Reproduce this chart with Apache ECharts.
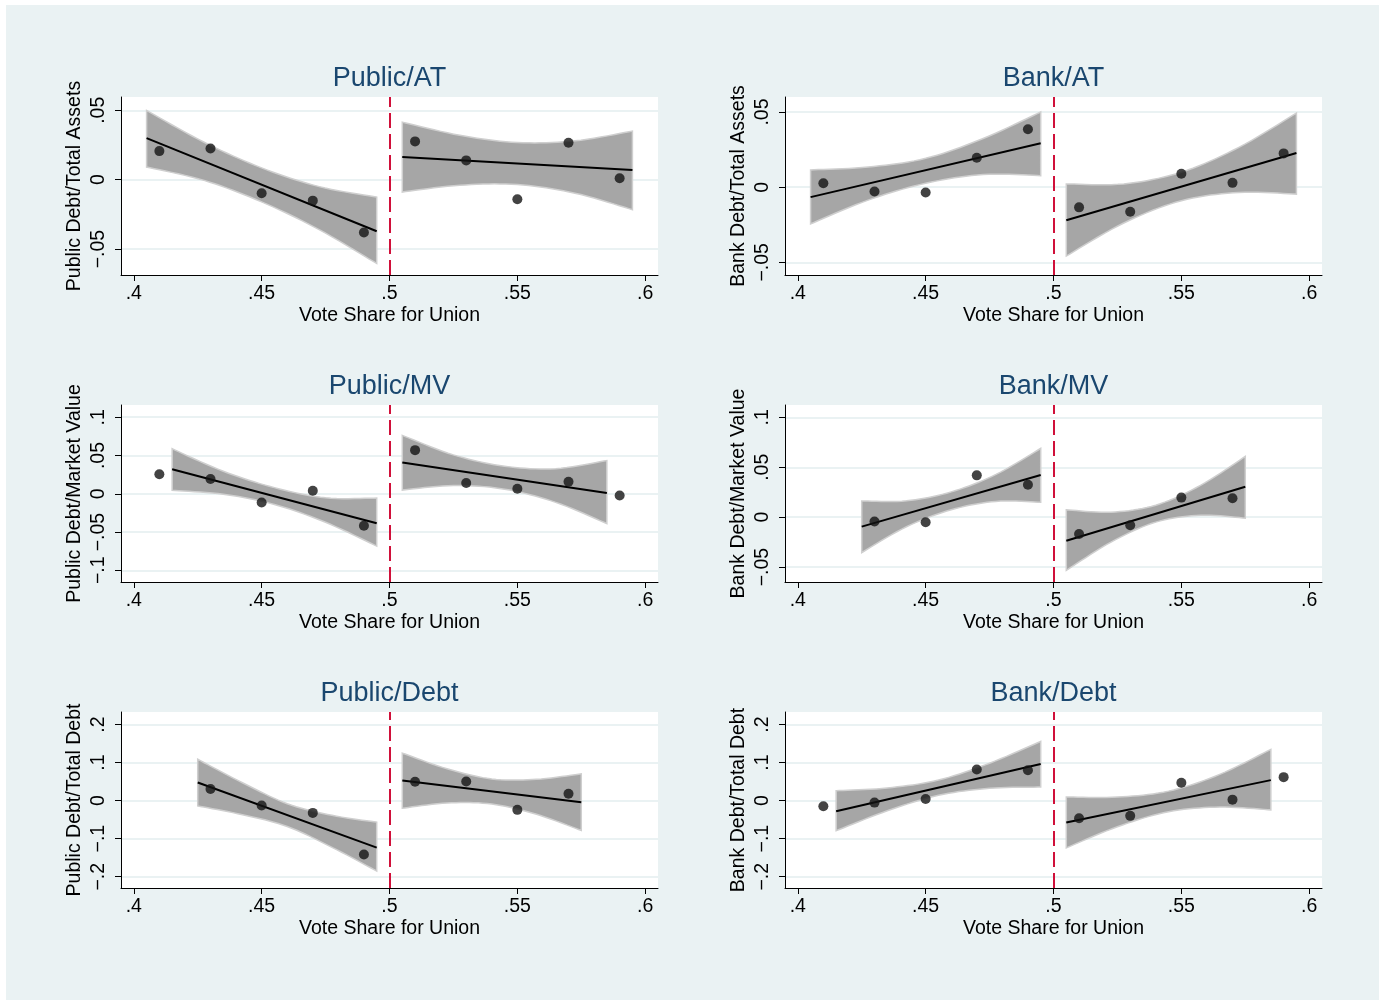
<!DOCTYPE html>
<html>
<head>
<meta charset="utf-8">
<script src="https://cdn.jsdelivr.net/npm/echarts@6/dist/echarts.min.js"></script>
<style>
  html, body { margin: 0; padding: 0; background: #fff; }
  #bg { position: absolute; left: 6px; top: 5px; width: 1373px; height: 995px; background: #eaf2f3; }
  #chart { position: absolute; left: 0; top: 0; width: 1389px; height: 1000px; }
</style>
</head>
<body>
<div id="bg"></div>
<div id="chart"></div>
<script>
// binned vote shares (x of every dot)
const xPts = [0.41, 0.43, 0.45, 0.47, 0.49, 0.51, 0.53, 0.55, 0.57, 0.59];
const xTicks = [0.4, 0.45, 0.5, 0.55, 0.6];

const titles = ['Public/AT', 'Bank/AT', 'Public/MV', 'Bank/MV', 'Public/Debt', 'Bank/Debt'];
const yNames = ['Public Debt/Total Assets', 'Bank Debt/Total Assets', 'Public Debt/Market Value',
  'Bank Debt/Market Value', 'Public Debt/Total Debt', 'Bank Debt/Total Debt'];
const yTicks = [
  [-0.05, 0, 0.05], [-0.05, 0, 0.05],
  [-0.1, -0.05, 0, 0.05, 0.1], [-0.05, 0, 0.05, 0.1],
  [-0.2, -0.1, 0, 0.1, 0.2], [-0.2, -0.1, 0, 0.1, 0.2]
];
const yMin = [-0.0687, -0.0584, -0.1153, -0.065, -0.2297, -0.2297];
const yMax = [0.0596, 0.060, 0.116, 0.1124, 0.233, 0.233];

// dot values, one per xPts entry (null = no dot)
const pubAT = [0.0206, 0.0225, -0.0098, -0.0151, -0.0381, 0.0276, 0.0139, -0.0141, 0.0266, 0.001];
const bankAT = [0.0026, -0.0029, -0.0035, 0.0196, 0.0385, -0.0134, -0.0163, 0.009, 0.0029, 0.0225];
const pubMV = [0.0254, 0.0193, -0.0114, 0.0039, -0.0417, 0.057, 0.014, 0.0066, 0.0158, -0.0022];
const bankMV = [null, -0.0044, -0.0051, 0.0419, 0.0324, -0.0169, -0.0081, 0.0196, 0.0189, null];
const pubDebt = [null, 0.0304, -0.013, -0.0322, -0.1417, 0.0496, 0.0504, -0.0243, 0.0183, null];
const bankDebt = [-0.0148, -0.0052, 0.0043, 0.0817, 0.08, -0.0461, -0.04, 0.047, 0.0026, 0.0617];

// fitted lines: [x0, y0, x1, y1] left and right of the cutoff
const fitPubAT = [[0.405, 0.030, 0.495, -0.0372], [0.505, 0.0163, 0.595, 0.007]];
const fitBankAT = [[0.405, -0.0066, 0.495, 0.0293], [0.505, -0.022, 0.595, 0.0227]];
const fitPubMV = [[0.415, 0.032, 0.495, -0.0386], [0.505, 0.0408, 0.585, 0.0009]];
const fitBankMV = [[0.425, -0.0095, 0.495, 0.0422], [0.505, -0.0236, 0.575, 0.0304]];
const fitPubDebt = [[0.425, 0.0478, 0.495, -0.1235], [0.505, 0.053, 0.575, -0.0043]];
const fitBankDebt = [[0.415, -0.0278, 0.495, 0.0965], [0.505, -0.0574, 0.585, 0.0539]];

// confidence bands: [x, lower, upper]
const bandPubAT_L = [[0.405, 0.0091, 0.0499], [0.4275, -0.0005, 0.027], [0.45, -0.016, 0.0085], [0.4725, -0.036, -0.005], [0.495, -0.0604, -0.0125]];
const bandPubAT_R = [[0.505, -0.0089, 0.0415], [0.5275, -0.004, 0.032], [0.55, -0.0035, 0.0268], [0.5725, -0.0097, 0.028], [0.595, -0.0216, 0.035]];
const bandBankAT_L = [[0.405, -0.0244, 0.0115], [0.4275, -0.0086, 0.0134], [0.45, 0.0026, 0.0192], [0.4725, 0.0084, 0.0324], [0.495, 0.0077, 0.05]];
const bandBankAT_R = [[0.505, -0.0458, 0.0022], [0.5275, -0.0238, 0.0022], [0.55, -0.009, 0.01], [0.5725, -0.0035, 0.0265], [0.595, -0.0046, 0.0493]];
const bandPubMV_L = [[0.415, 0.0044, 0.0588], [0.435, -0.0006, 0.0294], [0.455, -0.014, 0.008], [0.475, -0.0373, -0.0053], [0.495, -0.0684, -0.0057]];
const bandPubMV_R = [[0.505, 0.0048, 0.0763], [0.525, 0.0108, 0.0508], [0.545, 0.006, 0.036], [0.565, -0.0112, 0.0328], [0.585, -0.039, 0.0434]];
const bandBankMV_L = [[0.425, -0.0355, 0.0162], [0.4425, -0.0096, 0.0164], [0.46, 0.0074, 0.0253], [0.4775, 0.0158, 0.0428], [0.495, 0.0149, 0.0689]];
const bandBankMV_R = [[0.505, -0.0534, 0.0074], [0.5225, -0.025, 0.005], [0.54, -0.005, 0.012], [0.5575, 0.0019, 0.0319], [0.575, -0.001, 0.0608]];
const bandPubDebt_L = [[0.425, -0.0139, 0.1087], [0.4425, -0.037, 0.047], [0.46, -0.068, -0.008], [0.4775, -0.1227, -0.0387], [0.495, -0.185, -0.0565]];
const bandPubDebt_R = [[0.505, -0.02, 0.125], [0.5225, -0.0063, 0.0837], [0.54, -0.009, 0.057], [0.5575, -0.036, 0.056], [0.575, -0.0783, 0.0704]];
const bandBankDebt_L = [[0.415, -0.0791, 0.0261], [0.435, -0.0267, 0.0333], [0.455, 0.014, 0.054], [0.475, 0.0324, 0.0984], [0.495, 0.0357, 0.1557]];
const bandBankDebt_R = [[0.505, -0.1243, 0.0096], [0.525, -0.0686, 0.0094], [0.545, -0.029, 0.025], [0.565, -0.017, 0.069], [0.585, -0.0243, 0.1348]];

const panels = [
  { pts: pubAT, fit: fitPubAT, bands: [bandPubAT_L, bandPubAT_R] },
  { pts: bankAT, fit: fitBankAT, bands: [bandBankAT_L, bandBankAT_R] },
  { pts: pubMV, fit: fitPubMV, bands: [bandPubMV_L, bandPubMV_R] },
  { pts: bankMV, fit: fitBankMV, bands: [bandBankMV_L, bandBankMV_R] },
  { pts: pubDebt, fit: fitPubDebt, bands: [bandPubDebt_L, bandPubDebt_R] },
  { pts: bankDebt, fit: fitBankDebt, bands: [bandBankDebt_L, bandBankDebt_R] }
];

const FONT = "'Liberation Sans', Arial, Helvetica, sans-serif";
const colLeft = [121, 785];
const rowTop = [97, 405, 712];
const rowH = [178, 177, 176];
const plotW = 537;

function fmt(v) {
  if (Math.abs(v) < 1e-9) return '0';
  const s = String(Math.abs(v)).replace(/^0\./, '.');
  return (v < 0 ? '\u2212' : '') + s;
}

// smooth a pixel polyline (catmull-rom) so band edges are curved like the original
function spline(p) {
  const out = [];
  const n = p.length;
  for (let i = 0; i < n - 1; i++) {
    const p0 = p[Math.max(i - 1, 0)], p1 = p[i], p2 = p[i + 1], p3 = p[Math.min(i + 2, n - 1)];
    for (let s = 0; s < 10; s++) {
      const t = s / 10, t2 = t * t, t3 = t2 * t;
      out.push([0, 1].map(d => 0.5 * (2 * p1[d] + (-p0[d] + p2[d]) * t +
        (2 * p0[d] - 5 * p1[d] + 4 * p2[d] - p3[d]) * t2 + (-p0[d] + 3 * p1[d] - 3 * p2[d] + p3[d]) * t3)));
    }
  }
  out.push(p[n - 1]);
  return out;
}

const grids = [], xAxes = [], yAxes = [], series = [], graphics = [];

panels.forEach((p, i) => {
  const col = i % 2, row = Math.floor(i / 2);
  grids.push({
    left: colLeft[col], top: rowTop[row], width: plotW, height: rowH[row],
    show: true, backgroundColor: '#fff', borderWidth: 0
  });
  xAxes.push({
    type: 'value', gridIndex: i, min: 0.395, max: 0.605,
    name: 'Vote Share for Union', nameLocation: 'middle', nameGap: 31,
    nameTextStyle: { fontSize: 19.5, color: '#000', fontFamily: FONT },
    axisLine: { show: true, onZero: false, lineStyle: { color: '#000', width: 1 } },
    axisTick: { show: true, length: 6, customValues: xTicks, lineStyle: { color: '#000' } },
    axisLabel: { customValues: xTicks, formatter: fmt, fontSize: 19.5, color: '#000', margin: 9, fontFamily: FONT },
    splitLine: { show: false }
  });
  yAxes.push({
    type: 'value', gridIndex: i, min: yMin[i], max: yMax[i],
    name: yNames[i], nameLocation: 'middle', nameRotate: 90, nameGap: 36,
    nameTextStyle: { fontSize: 19.5, color: '#000', fontFamily: FONT },
    axisLine: { show: true, onZero: false, lineStyle: { color: '#000', width: 1 } },
    axisTick: { show: true, length: 6, customValues: yTicks[i], lineStyle: { color: '#000' } },
    axisLabel: { customValues: yTicks[i], formatter: fmt, rotate: 90, fontSize: 19.5, color: '#000', margin: 12, fontFamily: FONT },
    splitLine: { show: true, lineStyle: { color: '#eaf2f3', width: 2 } }
  });

  // confidence bands: one filled shape per side, built from the band rows
  p.bands.forEach(band => {
    series.push({
      type: 'custom', xAxisIndex: i, yAxisIndex: i, silent: true, z: 1,
      data: band, encode: { x: 0, y: [1, 2] },
      renderItem: (params, api) => {
        if (params.dataIndex !== 0) return null;
        const hi = band.map(r => api.coord([r[0], r[2]]));
        const lo = band.map(r => api.coord([r[0], r[1]])).reverse();
        return {
          type: 'polygon',
          shape: { points: spline(hi).concat(spline(lo)) },
          style: { fill: '#a6a6a6', stroke: '#cfcfcf', lineWidth: 1.5 }
        };
      }
    });
  });

  // fitted lines
  p.fit.forEach(f => {
    series.push({
      type: 'line', xAxisIndex: i, yAxisIndex: i,
      data: [[f[0], f[1]], [f[2], f[3]]], symbol: 'none', silent: true,
      lineStyle: { color: '#000', width: 2 }, z: 3
    });
  });

  // binned dots + cutoff line
  series.push({
    type: 'scatter', xAxisIndex: i, yAxisIndex: i,
    data: xPts.map((x, j) => p.pts[j] == null ? null : [x, p.pts[j]]).filter(d => d),
    symbolSize: 10, itemStyle: { color: '#141414' }, z: 4,
    markLine: {
      silent: true, symbol: 'none', label: { show: false },
      lineStyle: { color: '#d0103a', type: [15, 6], width: 2 },
      data: [{ xAxis: 0.5 }]
    }
  });

  graphics.push({
    type: 'text', x: colLeft[col] + plotW / 2, y: rowTop[row] - 18,
    style: { text: titles[i], fontSize: 27, fontFamily: FONT, fill: '#1a476f', align: 'center', verticalAlign: 'middle' }
  });
});

const chart = echarts.init(document.getElementById('chart'), null, { renderer: 'canvas' });
chart.setOption({
  backgroundColor: 'transparent',
  animation: false,
  grid: grids,
  xAxis: xAxes,
  yAxis: yAxes,
  series: series,
  graphic: graphics
});
</script>
</body>
</html>
